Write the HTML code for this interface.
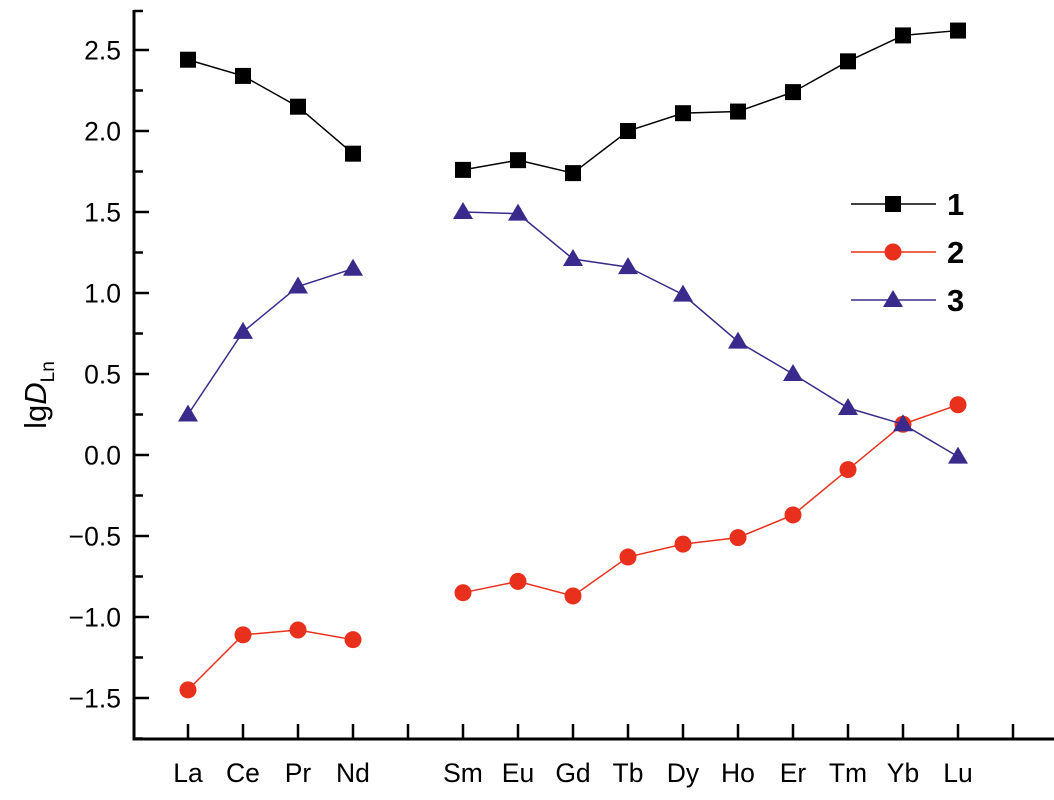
<!DOCTYPE html>
<html><head><meta charset="utf-8"><style>
body{margin:0;background:#fff}
svg{display:block;font-family:"Liberation Sans",Arial,sans-serif}
</style></head><body>
<svg id="chart" width="1054" height="800" viewBox="0 0 1054 800">
<g id="axes"></g>
<g id="series"></g>
<g id="legend"></g>
<text transform="translate(46,395) rotate(-90)" text-anchor="middle" font-size="31">lg<tspan font-style="italic">D</tspan><tspan font-size="19" dy="8">Ln</tspan></text>
</svg>
<script>
const categories=["La","Ce","Pr","Nd","","Sm","Eu","Gd","Tb","Dy","Ho","Er","Tm","Yb","Lu",""];
const series1=[2.44,2.34,2.15,1.86,null,1.76,1.82,1.74,2.00,2.11,2.12,2.24,2.43,2.59,2.62,null];
const series2=[-1.45,-1.11,-1.08,-1.14,null,-0.85,-0.78,-0.87,-0.63,-0.55,-0.51,-0.37,-0.09,0.19,0.31,null];
const series3=[0.25,0.76,1.04,1.15,null,1.50,1.49,1.21,1.16,0.99,0.70,0.50,0.29,0.19,-0.01,null];
const yTicks=[-1.5,-1.0,-0.5,0.0,0.5,1.0,1.5,2.0,2.5];
const yTickLabels=["\u22121.5","\u22121.0","\u22120.5","0.0","0.5","1.0","1.5","2.0","2.5"];
const legendLabels=["1","2","3"];
const NS="http://www.w3.org/2000/svg";
const X0=134,YB=739,YT=10;
function xs(i){return 188+i*55;}
function ys(v){return 455-v*162;}
function mk(tag,attrs,parent){const e=document.createElementNS(NS,tag);for(const k in attrs)e.setAttribute(k,attrs[k]);parent.appendChild(e);return e;}
const axes=document.getElementById('axes');
let e=mk('line',{x1:X0,y1:YT,x2:X0,y2:YB+1.5,stroke:'#000','stroke-width':3},axes);

e=mk('line',{x1:X0-1.5,y1:YB,x2:1054,y2:YB,stroke:'#000','stroke-width':3},axes);

mk('line',{x1:X0,y1:YT+1,x2:X0+9,y2:YT+1,stroke:'#000','stroke-width':2.5},axes);
yTicks.forEach((v,i)=>{
  const y=ys(v);
  mk('line',{x1:X0,y1:y,x2:X0+15,y2:y,stroke:'#000','stroke-width':2.5},axes);
  const ym=ys(v+0.25);
  if(ym>YT+5) mk('line',{x1:X0,y1:ym,x2:X0+9,y2:ym,stroke:'#000','stroke-width':2.5},axes);
  const t=mk('text',{x:121,y:y+9.5,'text-anchor':'end','font-size':26.5},axes);
  t.textContent=yTickLabels[i];
  
  
});
mk('line',{x1:X0,y1:ys(-1.75),x2:X0+9,y2:ys(-1.75),stroke:'#000','stroke-width':2.5},axes);
categories.forEach((c,i)=>{
  const x=xs(i);
  mk('line',{x1:x,y1:YB,x2:x,y2:YB-15,stroke:'#000','stroke-width':2.5},axes);
  if(c){const t=mk('text',{x:x,y:782,'text-anchor':'middle','font-size':26.5},axes);t.textContent=c;
  
  }
});
const sg=document.getElementById('series');
function marker(shape,x,y,col,g){
  if(shape==='sq') return mk('rect',{x:x-8,y:y-8,width:16,height:16,fill:col},g);
  if(shape==='ci') return mk('circle',{cx:x,cy:y,r:8.5,fill:col},g);
  return mk('polygon',{points:`${x},${y-10} ${x+10},${y+7} ${x-10},${y+7}`,fill:col},g);
}
const defs=[[series1,'#000','sq','series-1'],[series2,'#e8301c','ci','series-2'],[series3,'#3a2a8c','tr','series-3']];
defs.forEach(([data,col,shape,name])=>{
  const g=mk('g',{},sg);
  
  
  let seg=[];
  const segs=[];
  data.forEach((v,i)=>{if(v==null){if(seg.length)segs.push(seg);seg=[];}else seg.push(xs(i)+','+ys(v));});
  if(seg.length)segs.push(seg);
  segs.forEach(s=>mk('polyline',{points:s.join(' '),fill:'none',stroke:col,'stroke-width':1.5},g));
  data.forEach((v,i)=>{if(v!=null){const m=marker(shape,xs(i),ys(v),col,g);
    
    }});
});
const lg=document.getElementById('legend');
defs.forEach(([d,col,shape,name],i)=>{
  const y=204+i*48;
  const g=mk('g',{},lg);
  
  
  mk('line',{x1:851,y1:y,x2:936,y2:y,stroke:col,'stroke-width':1.5},g);
  marker(shape,893,y,col,g);
  const t=mk('text',{x:947,y:y+11,'font-size':31,'font-weight':'bold'},g);
  t.textContent=legendLabels[i];
});
</script>
</body></html>
